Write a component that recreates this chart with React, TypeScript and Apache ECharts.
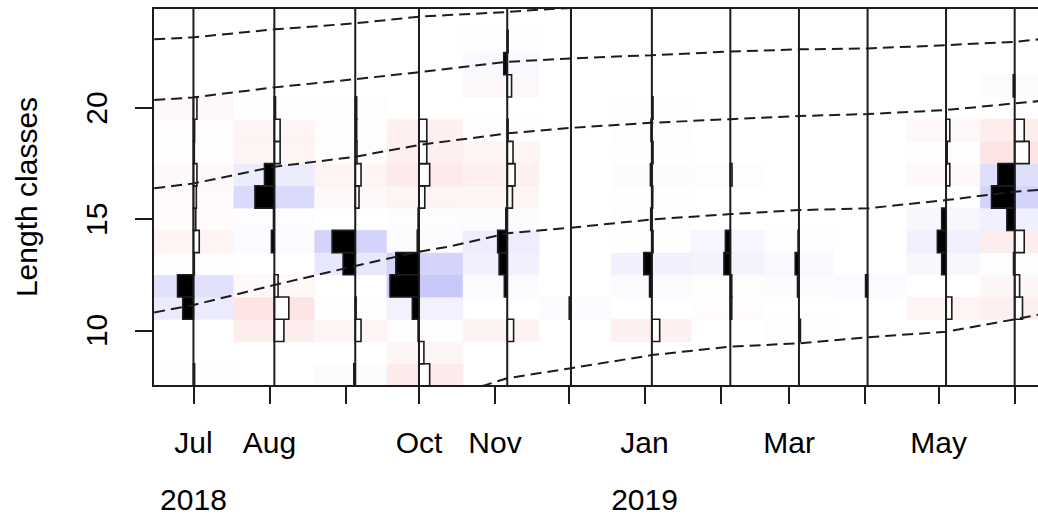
import React, { useEffect, useRef } from "react";
import * as echarts from "echarts";

// Sampling dates of the length-frequency survey
const sampleDates = [
  "2018-07-01", "2018-08-03", "2018-09-05", "2018-10-01", "2018-11-06", "2018-12-02",
  "2019-01-04", "2019-02-05", "2019-03-05", "2019-04-02", "2019-05-04", "2019-06-01",
];

// Length class mid points (cm)
const lengthBins = [8, 9, 10, 11, 12, 13, 14, 15, 16, 17, 18, 19, 20, 21, 22, 23, 24];

// Restructured (ELEFAN) scores, one row per sample, columns follow lengthBins
const rcounts: number[][] = [
  [-0.04, 0, 0, 0.37, 0.55, -0.03, -0.2, -0.08, -0.1, -0.12, -0.03, -0.04, -0.12, 0, 0, 0, 0],
  [0, 0, -0.33, -0.5, -0.13, 0, 0.1, 0.03, 0.67, 0.34, -0.2, -0.2, -0.04, 0, 0, 0, 0],
  [0.05, 0, -0.2, -0.03, 0, 0.42, 0.8, 0, -0.13, -0.2, -0.06, -0.05, -0.05, 0, 0, 0, 0],
  [-0.37, -0.17, 0.03, 0.23, 1.0, 0.8, 0.06, 0.03, -0.2, -0.37, -0.27, -0.27, 0, 0, 0, 0, 0],
  [0, 0, -0.22, 0, 0.1, 0.28, 0.33, 0.05, -0.18, -0.27, -0.2, -0.03, 0, -0.15, 0.12, -0.03, 0],
  [0, 0, 0, 0.06, 0, 0, 0, 0, 0, 0, 0, 0, 0, 0, 0, 0, 0],
  [0, 0, -0.27, 0, 0.08, 0.28, -0.04, 0.04, -0.03, 0.05, -0.04, 0.03, -0.04, 0, 0, 0, 0],
  [0, 0, 0, -0.05, -0.05, 0.22, 0.17, 0, 0, -0.06, 0, 0, 0, 0, 0, 0, 0],
  [0, 0, -0.05, 0, 0.05, 0.13, 0.03, 0, 0, 0, 0, 0, 0, 0, 0, 0, 0],
  [0, 0, 0, 0, 0.07, 0, 0, 0, 0, 0, 0, 0, 0, 0, 0, 0, 0],
  [0, 0, 0, -0.2, 0, 0.15, 0.3, 0.15, 0, -0.13, -0.04, -0.13, 0, 0, 0, 0, 0],
  [0, 0, 0, -0.27, -0.17, 0.04, -0.33, 0.27, 0.8, 0.58, -0.5, -0.33, 0, 0.05, 0, 0, 0],
];

// Seasonal von Bertalanffy growth curves, one per cohort: [date, length]
const cohortA: [string, number][] = [
  ["2018-06-15", 23.09], ["2018-07-01", 23.18], ["2018-08-03", 23.54], ["2018-09-05", 23.81],
  ["2018-10-01", 24.11], ["2018-10-13", 24.18], ["2018-11-06", 24.32], ["2018-11-20", 24.43],
  ["2018-12-02", 24.5], ["2019-01-04", 24.7],
];
const cohortB: [string, number][] = [
  ["2018-06-15", 20.36], ["2018-07-01", 20.48], ["2018-08-03", 20.93], ["2018-09-05", 21.3],
  ["2018-10-01", 21.61], ["2018-11-06", 22.08], ["2018-12-02", 22.23], ["2019-01-04", 22.38],
  ["2019-02-05", 22.54], ["2019-03-05", 22.64], ["2019-04-02", 22.68], ["2019-05-04", 22.83],
  ["2019-06-01", 22.98], ["2019-06-15", 23.14],
];
const cohortC: [string, number][] = [
  ["2018-06-15", 16.39], ["2018-07-01", 16.61], ["2018-08-03", 17.36], ["2018-09-05", 17.81],
  ["2018-10-01", 18.34], ["2018-11-06", 18.86], ["2018-12-02", 19.11], ["2019-01-04", 19.34],
  ["2019-02-05", 19.5], ["2019-03-05", 19.64], ["2019-04-02", 19.73], ["2019-05-04", 19.91],
  ["2019-06-01", 20.21], ["2019-06-15", 20.36],
];
const cohortD: [string, number][] = [
  ["2018-06-15", 10.81], ["2018-07-01", 11.14], ["2018-08-03", 12.04], ["2018-09-05", 12.9],
  ["2018-10-01", 13.54], ["2018-10-13", 13.76], ["2018-11-06", 14.37], ["2018-12-02", 14.62],
  ["2019-01-04", 14.99], ["2019-02-05", 15.23], ["2019-03-05", 15.41], ["2019-04-02", 15.49],
  ["2019-05-04", 15.86], ["2019-06-01", 16.24], ["2019-06-15", 16.35],
];
const cohortE: [string, number][] = [
  ["2018-10-13", 7.07], ["2018-10-28", 7.54], ["2018-11-06", 7.85], ["2018-12-02", 8.3],
  ["2019-01-04", 8.89], ["2019-02-05", 9.27], ["2019-03-05", 9.42], ["2019-04-02", 9.69],
  ["2019-05-04", 9.94], ["2019-06-01", 10.5], ["2019-06-15", 10.8],
];
const growthCurves = [cohortA, cohortB, cohortC, cohortD, cohortE];

// Month ticks and the subset that carries a label
const monthTicks = [
  "2018-07-01", "2018-08-01", "2018-09-01", "2018-10-01", "2018-11-01", "2018-12-01",
  "2019-01-01", "2019-02-01", "2019-03-01", "2019-04-01", "2019-05-01", "2019-06-01",
];
const monthLabels = ["Jul", "Aug", "", "Oct", "Nov", "", "Jan", "", "Mar", "", "May", ""];
const yearLabels = ["2018", "", "", "", "", "", "2019", "", "", "", "", ""];
const lengthTicks = [10, 15, 20];

const DAY = 86400000;
const HIST_SCALE = 11.8 * DAY; // width of a score of 1 on the time axis
const FONT = "'Liberation Sans', Arial, Helvetica, sans-serif";
const INK = "#1c1c1c";

const ts = (s: string) => Date.parse(s);

function scoreColor(v: number): string {
  const t = Math.min(1, Math.abs(v));
  const strong = Math.round(255 - 55 * t);
  const weak = Math.round(255 - 5 * t);
  return v >= 0 ? `rgb(${strong},${strong},${weak})` : `rgb(${weak},${strong},${strong})`;
}

export default function App() {
  const ref = useRef<HTMLDivElement>(null);

  useEffect(() => {
    if (!ref.current) return;
    const chart = echarts.init(ref.current, undefined, { renderer: "svg" });

    const dates = sampleDates.map(ts);
    const n = dates.length;
    const edges: number[] = [];
    edges.push(dates[0] - (dates[1] - dates[0]) / 2);
    for (let i = 0; i < n - 1; i++) edges.push((dates[i] + dates[i + 1]) / 2);
    edges.push(dates[n - 1] + (dates[n - 1] - dates[n - 2]) / 2);
    const xMin = edges[0];
    const xMax = edges[n];
    const yMin = lengthBins[0] - 0.5;
    const yMax = lengthBins[lengthBins.length - 1] + 0.5;

    const cellData: number[][] = [];
    const barData: number[][] = [];
    rcounts.forEach((row, i) => {
      row.forEach((v, j) => {
        if (v !== 0) {
          cellData.push([edges[i], lengthBins[j], v, edges[i + 1]]);
          barData.push([dates[i], lengthBins[j], v]);
        }
      });
    });

    const tickValues = monthTicks.map(ts);
    const labelValues: number[] = [];
    const labelText = new Map<number, string>();
    monthTicks.forEach((m, i) => {
      if (monthLabels[i]) {
        const v = ts(m);
        labelValues.push(v);
        labelText.set(v, yearLabels[i] ? `${monthLabels[i]}\n${yearLabels[i]}` : monthLabels[i]);
      }
    });

    chart.setOption({
      animation: false,
      grid: {
        left: 153,
        top: 8,
        width: 896,
        height: 378,
        outerBoundsMode: "none",
        show: true,
        borderColor: INK,
        borderWidth: 2,
        backgroundColor: "transparent",
      },
      xAxis: {
        type: "value",
        min: xMin,
        max: xMax,
        z: 10,
        splitLine: { show: false },
        axisLine: { show: true, lineStyle: { color: INK, width: 2 } },
        axisTick: {
          show: true,
          length: 18,
          customValues: tickValues,
          lineStyle: { color: INK, width: 2 },
        },
        axisLabel: {
          customValues: labelValues,
          formatter: (v: number) => labelText.get(v) ?? "",
          margin: 28,
          fontSize: 30,
          lineHeight: 57,
          color: "#000",
          fontFamily: FONT,
        },
      },
      yAxis: {
        type: "value",
        min: yMin,
        max: yMax,
        z: 10,
        name: "Length classes",
        nameLocation: "middle",
        nameRotate: 90,
        nameGap: 112,
        nameTextStyle: { fontSize: 30, color: "#000", fontFamily: FONT },
        splitLine: { show: false },
        axisLine: { show: true, lineStyle: { color: INK, width: 2 } },
        axisTick: {
          show: true,
          length: 18,
          customValues: lengthTicks,
          lineStyle: { color: INK, width: 2 },
        },
        axisLabel: {
          customValues: lengthTicks,
          rotate: 90,
          margin: 42,
          fontSize: 30,
          color: "#000",
          fontFamily: FONT,
        },
      },
      series: [
        {
          // score image behind the histograms
          type: "custom",
          z: 1,
          silent: true,
          clip: true,
          data: cellData,
          encode: { x: [0, 3], y: 1 },
          renderItem: (_p: any, api: any) => {
            const left = api.value(0);
            const bin = api.value(1);
            const v = api.value(2);
            const right = api.value(3);
            const a = api.coord([left, bin + 0.5]);
            const b = api.coord([right, bin - 0.5]);
            const c = scoreColor(v);
            return {
              type: "rect",
              shape: { x: a[0], y: a[1], width: b[0] - a[0], height: b[1] - a[1] },
              style: { fill: c, stroke: c, lineWidth: 0.6 },
            };
          },
        },
        {
          // histogram bars: positive scores to the left in black, negative to the right in white
          type: "custom",
          z: 3,
          silent: true,
          clip: true,
          data: barData,
          encode: { x: 0, y: 1 },
          renderItem: (_p: any, api: any) => {
            const d = api.value(0);
            const bin = api.value(1);
            const v = api.value(2);
            const a = api.coord([d - v * HIST_SCALE, bin + 0.5]);
            const b = api.coord([d, bin - 0.5]);
            const x = Math.min(a[0], b[0]);
            const w = Math.abs(b[0] - a[0]);
            return {
              type: "rect",
              shape: { x, y: a[1], width: w, height: b[1] - a[1] },
              style: { fill: v > 0 ? "#000" : "#fff", stroke: INK, lineWidth: 1.6 },
            };
          },
        },
        {
          // sample baselines
          type: "custom",
          z: 4,
          silent: true,
          data: dates.map((d) => [d, yMin, yMax]),
          encode: { x: 0, y: [1, 2] },
          renderItem: (_p: any, api: any) => {
            const a = api.coord([api.value(0), api.value(1)]);
            const b = api.coord([api.value(0), api.value(2)]);
            return {
              type: "line",
              shape: { x1: a[0], y1: a[1], x2: b[0], y2: b[1] },
              style: { stroke: INK, lineWidth: 2 },
            };
          },
        },
        ...growthCurves.map((curve) => ({
          type: "line",
          z: 5,
          silent: true,
          clip: true,
          showSymbol: false,
          symbol: "none",
          data: curve.map(([d, L]) => [ts(d), L]),
          lineStyle: { color: INK, width: 2, type: [11, 6] },
        })),
      ],
    });

    return () => chart.dispose();
  }, []);

  return (
    <div
      ref={ref}
      style={{ position: "absolute", left: 0, top: 0, width: 1038, height: 516, background: "#fff" }}
    />
  );
}
